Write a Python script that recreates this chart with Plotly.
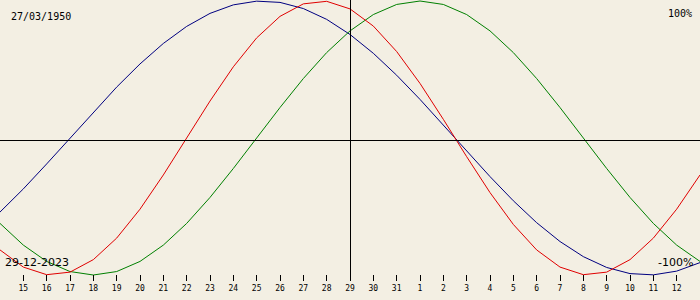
import plotly.graph_objects as go

# day offsets relative to the centre date (29-12-2023)
day_offsets = list(range(-15, 16))
tick_offsets = list(range(-14, 15))
tick_labels = ["15", "16", "17", "18", "19", "20", "21", "22", "23", "24", "25", "26", "27", "28",
               "29", "30", "31", "1", "2", "3", "4", "5", "6", "7", "8", "9", "10", "11", "12"]

physical = [-0.8170, -0.9423, -0.9977, -0.9791, -0.8879, -0.7308, -0.5196, -0.2698, 0.0,
            0.2698, 0.5196, 0.7308, 0.8879, 0.9791, 0.9977, 0.9423, 0.8170, 0.6311, 0.3984,
            0.1362, -0.1362, -0.3984, -0.6311, -0.8170, -0.9423, -0.9977, -0.9791, -0.8879,
            -0.7308, -0.5196, -0.2698]
emotional = [-0.6235, -0.7818, -0.9010, -0.9749, -1.0, -0.9749, -0.9010, -0.7818, -0.6235,
             -0.4339, -0.2225, 0.0, 0.2225, 0.4339, 0.6235, 0.7818, 0.9010, 0.9749, 1.0,
             0.9749, 0.9010, 0.7818, 0.6235, 0.4339, 0.2225, 0.0, -0.2225, -0.4339, -0.6235,
             -0.7818, -0.9010]
intellectual = [-0.5406, -0.3717, -0.1893, 0.0, 0.1893, 0.3717, 0.5406, 0.6901, 0.8146,
                0.9096, 0.9718, 0.9989, 0.9898, 0.9450, 0.8660, 0.7557, 0.6182, 0.4582,
                0.2817, 0.0951, -0.0951, -0.2817, -0.4582, -0.6182, -0.7557, -0.8660,
                -0.9450, -0.9898, -0.9989, -0.9718, -0.9096]

birth_date = "27/03/1950"
centre_date = "29-12-2023"

W, H = 700, 300
bg = "#f3efe3"
mono = "DejaVu Sans Mono"

fig = go.Figure()
fig.add_trace(go.Scatter(x=day_offsets, y=intellectual, mode="lines",
                         line=dict(color="#000080", width=1), hoverinfo="skip"))
fig.add_trace(go.Scatter(x=day_offsets, y=emotional, mode="lines",
                         line=dict(color="#008000", width=1), hoverinfo="skip"))
fig.add_trace(go.Scatter(x=day_offsets, y=physical, mode="lines",
                         line=dict(color="#e00000", width=1), hoverinfo="skip"))

# horizontal zero line and vertical centre line (half-pixel aligned for crispness)
fig.add_shape(type="line", xref="paper", yref="paper", x0=0, x1=1,
              y0=(H - 140.5) / H, y1=(H - 140.5) / H, line=dict(color="black", width=1))
fig.add_shape(type="line", xref="paper", yref="paper", x0=350.5 / W, x1=350.5 / W,
              y0=(H - 280) / H, y1=1, line=dict(color="black", width=1))

fig.add_annotation(text=birth_date, xref="paper", yref="paper", x=9 / W, y=1 - 16 / H,
                   xanchor="left", yanchor="middle", showarrow=False,
                   font=dict(family=mono, size=10, color="black"))
fig.add_annotation(text="100%", xref="paper", yref="paper", x=694 / W, y=1 - 13 / H,
                   xanchor="right", yanchor="middle", showarrow=False,
                   font=dict(family=mono, size=10, color="black"))
fig.add_annotation(text=centre_date, xref="paper", yref="paper", x=3 / W, y=1 - 262 / H,
                   xanchor="left", yanchor="middle", showarrow=False,
                   font=dict(family="DejaVu Sans", size=11, color="black"))
fig.add_annotation(text="-100%", xref="paper", yref="paper", x=695 / W, y=1 - 262 / H,
                   xanchor="right", yanchor="middle", showarrow=False,
                   font=dict(family="DejaVu Sans", size=11, color="black"))

fig.update_layout(
    width=W, height=H, autosize=False,
    margin=dict(l=0, r=0, t=0, b=0, pad=0),
    paper_bgcolor=bg, plot_bgcolor=bg,
    showlegend=False,
    xaxis=dict(range=[-15, 15], anchor="free", position=(H - 274) / H,
               tickmode="array", tickvals=tick_offsets, ticktext=tick_labels,
               ticks="outside", ticklen=6, tickwidth=1, tickcolor="black",
               showgrid=False, zeroline=False, showline=False, automargin=False,
               tickfont=dict(family=mono, size=8, color="black"), fixedrange=True),
    yaxis=dict(range=[-1.1825, 1.0073], showgrid=False, zeroline=False,
               showline=False, showticklabels=False, ticks="", automargin=False,
               fixedrange=True),
)

fig.write_html("out.html")
